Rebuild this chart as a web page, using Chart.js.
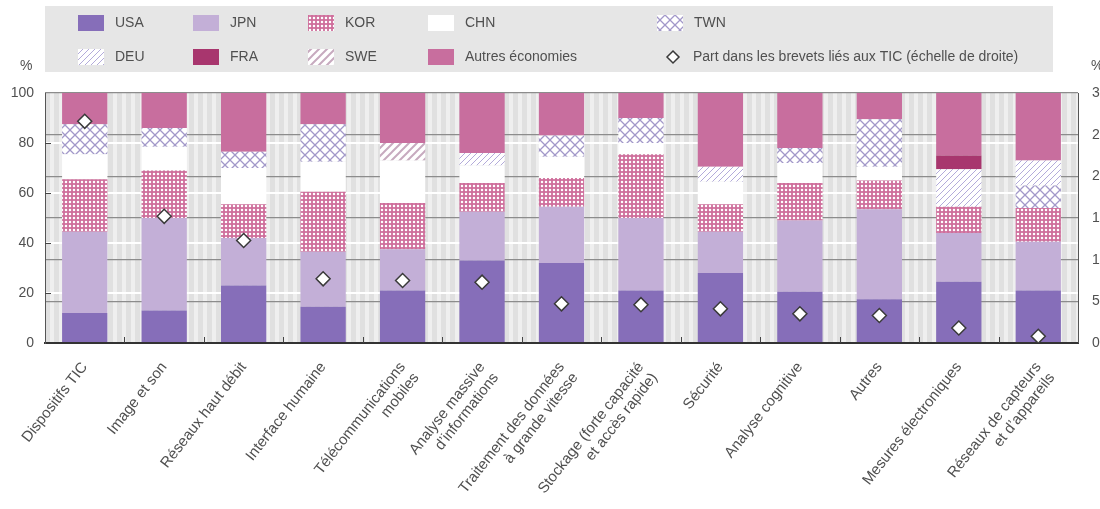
<!DOCTYPE html>
<html>
<head>
<meta charset="utf-8">
<script src="https://cdn.jsdelivr.net/npm/chart.js@4.4.1/dist/chart.umd.min.js"></script>
<style>
  body { margin: 0; background: #fff; }
  #wrap { width: 1100px; height: 509px; }
</style>
</head>
<body>
<div id="wrap"><canvas id="ictChart" width="1100" height="509"></canvas></div>
<script>
const categories = [
  'Dispositifs TIC',
  'Image et son',
  'Réseaux haut débit',
  'Interface humaine',
  ['Télécommunications', 'mobiles'],
  ['Analyse massive', 'd’informations'],
  ['Traitement des données', 'à grande vitesse'],
  ['Stockage (forte capacité', 'et accès rapide)'],
  'Sécurité',
  'Analyse cognitive',
  'Autres',
  'Mesures électroniques',
  ['Réseaux de capteurs', 'et d’appareils']
];

// shares in %, stacked to 100
const usa    = [12, 13, 23, 14.5, 21, 33, 32, 21, 28, 20.5, 17.5, 24.5, 21];
const jpn    = [32.5, 37, 19, 22, 16.5, 19.5, 22.5, 29, 16.5, 28.5, 36, 19.5, 19.5];
const kor    = [21, 19, 13.5, 24, 18.5, 11.5, 11.5, 25.5, 11, 15, 11.5, 10.5, 13.5];
const chn    = [10, 9.5, 14.5, 12, 17, 7, 8.5, 4.5, 9, 8, 5.5, 0, 0];
const twn    = [12, 7.5, 6.5, 15, 0, 0, 8.5, 10, 0, 6, 19, 0, 9];
const deu    = [0, 0, 0, 0, 0, 5, 0, 0, 6, 0, 0, 15, 10];
const fra    = [0, 0, 0, 0, 0, 0, 0, 0, 0, 0, 0, 5.5, 0];
const swe    = [0, 0, 0, 0, 7, 0, 0, 0, 0, 0, 0, 0, 0];
const others = [12.5, 14, 23.5, 12.5, 20, 24, 17, 10, 29.5, 22, 10.5, 25, 27];

// right scale: share in ICT patents
const ictShare = [26.6, 15.2, 12.3, 7.7, 7.5, 7.3, 4.7, 4.6, 4.1, 3.5, 3.3, 1.8, 0.8];

const leftTicks = [0, 20, 40, 60, 80, 100];
const rightTicks = [0, 5, 10, 15, 20, 25, 30];

const FONT = "'Liberation Sans Narrow', 'Arial Narrow', 'Liberation Sans', sans-serif";
const TEXT = '#505050';

const ctx = document.getElementById('ictChart').getContext('2d');

function makePattern(size, draw) {
  const c = document.createElement('canvas');
  c.width = size;
  c.height = size;
  const g = c.getContext('2d');
  draw(g, size);
  return ctx.createPattern(c, 'repeat');
}

function diagonal(g, s, color, width) {
  g.fillStyle = '#fff';
  g.fillRect(0, 0, s, s);
  g.strokeStyle = color;
  g.lineWidth = width;
  g.beginPath();
  g.moveTo(0, s); g.lineTo(s, 0);
  g.moveTo(-s / 2, s / 2); g.lineTo(s / 2, -s / 2);
  g.moveTo(s / 2, s * 1.5); g.lineTo(s * 1.5, s / 2);
  g.stroke();
}

const korPattern = makePattern(4, (g, s) => {
  g.fillStyle = '#cf6f9c';
  g.fillRect(0, 0, s, s);
  g.fillStyle = '#fff';
  g.beginPath();
  g.arc(2, 2, 1.25, 0, Math.PI * 2);
  g.fill();
});

const twnPattern = makePattern(10, (g, s) => {
  g.fillStyle = '#fff';
  g.fillRect(0, 0, s, s);
  g.strokeStyle = '#a298c9';
  g.lineWidth = 1.3;
  g.beginPath();
  g.moveTo(0, 0); g.lineTo(s, s);
  g.moveTo(s, 0); g.lineTo(0, s);
  g.stroke();
});

const deuPattern = makePattern(6, (g, s) => diagonal(g, s, '#b3abda', 1));
const swePattern = makePattern(8, (g, s) => diagonal(g, s, '#c7aabf', 2));

const stripePattern = makePattern(9, (g, s) => {
  g.fillStyle = '#efefef';
  g.fillRect(0, 0, s, s);
  g.fillStyle = '#e0e0e0';
  g.fillRect(0, 0, 5, s);
});

const series = [
  { label: 'USA', data: usa, fill: '#866eb9' },
  { label: 'JPN', data: jpn, fill: '#c3afd7' },
  { label: 'KOR', data: kor, fill: korPattern },
  { label: 'CHN', data: chn, fill: '#ffffff' },
  { label: 'TWN', data: twn, fill: twnPattern },
  { label: 'DEU', data: deu, fill: deuPattern },
  { label: 'FRA', data: fra, fill: '#a8366e' },
  { label: 'SWE', data: swe, fill: swePattern },
  { label: 'Autres économies', data: others, fill: '#c86e9e' }
];

const datasets = [
  {
    type: 'line',
    label: 'Part dans les brevets liés aux TIC (échelle de droite)',
    data: ictShare,
    yAxisID: 'y1',
    showLine: false,
    pointStyle: 'rectRot',
    pointRadius: 7,
    pointBackgroundColor: '#ffffff',
    pointBorderColor: '#3a3a3a',
    pointBorderWidth: 1.5,
    order: 0
  },
  ...series.map(s => ({
    type: 'bar',
    label: s.label,
    data: s.data,
    backgroundColor: s.fill,
    borderWidth: 0,
    yAxisID: 'y',
    stack: 'all',
    barPercentage: 0.57,
    categoryPercentage: 1,
    order: 1
  }))
];

// legend grid: two rows, five columns
const legendCols = [78, 193, 308, 428, 657];
const legendRows = [23, 57];
const legendItems = [
  [0, 0, 'USA'], [1, 0, 'JPN'], [2, 0, 'KOR'], [3, 0, 'CHN'], [4, 0, 'TWN'],
  [0, 1, 'DEU'], [1, 1, 'FRA'], [2, 1, 'SWE'], [3, 1, 'Autres économies'], [4, 1, 'ICT']
];

const decorPlugin = {
  id: 'decor',
  beforeDraw(chart) {
    const { ctx, chartArea: a } = chart;
    ctx.save();
    ctx.fillStyle = stripePattern;
    ctx.fillRect(a.left, a.top, a.right - a.left, a.bottom - a.top);

    // legend box
    ctx.fillStyle = '#e6e6e6';
    ctx.fillRect(45, 6, 1008, 66);
    ctx.font = '14px ' + FONT;
    ctx.textBaseline = 'middle';
    legendItems.forEach(([c, r, name]) => {
      const x = legendCols[c];
      const y = legendRows[r];
      if (name === 'ICT') {
        const ds = chart.data.datasets[0];
        ctx.beginPath();
        ctx.moveTo(x + 16, y - 6);
        ctx.lineTo(x + 22, y);
        ctx.lineTo(x + 16, y + 6);
        ctx.lineTo(x + 10, y);
        ctx.closePath();
        ctx.fillStyle = '#fff';
        ctx.fill();
        ctx.lineWidth = 1.5;
        ctx.strokeStyle = '#3a3a3a';
        ctx.stroke();
        ctx.fillStyle = TEXT;
        ctx.fillText(ds.label, x + 36, y);
        return;
      }
      const s = series.find(d => d.label === name);
      ctx.fillStyle = s.fill;
      ctx.fillRect(x, y - 8, 26, 16);
      ctx.fillStyle = TEXT;
      ctx.fillText(name, x + 37, y);
    });

    // unit labels
    ctx.fillText('%', 20, 66);
    ctx.fillText('%', 1091, 66);
    ctx.restore();
  },
  beforeDatasetsDraw(chart) {
    const { ctx, chartArea: a, scales } = chart;
    ctx.save();
    ctx.strokeStyle = '#444';
    ctx.lineWidth = 1;
    ctx.beginPath();
    // small inward ticks between categories
    const step = (a.right - a.left) / categories.length;
    for (let i = 1; i < categories.length; i++) {
      const x = Math.round(a.left + step * i) + 0.5;
      ctx.moveTo(x, a.bottom);
      ctx.lineTo(x, a.bottom - 6);
    }
    leftTicks.slice(1, -1).forEach(v => {
      const y = Math.round(scales.y.getPixelForValue(v)) + 0.5;
      ctx.moveTo(a.left, y);
      ctx.lineTo(a.left + 6, y);
    });
    ctx.stroke();
    ctx.restore();
  }
};

Chart.defaults.font.family = FONT;
Chart.defaults.color = TEXT;

new Chart(ctx, {
  type: 'bar',
  data: { labels: categories, datasets },
  plugins: [decorPlugin],
  options: {
    responsive: false,
    animation: false,
    devicePixelRatio: 1,
    layout: { padding: { top: 93, left: 0, right: 0, bottom: 0 } },
    scales: {
      x: {
        stacked: true,
        grid: { display: false },
        border: { display: true, color: '#333', width: 2 },
        ticks: {
          autoSkip: false,
          minRotation: 52,
          maxRotation: 52,
          padding: 8,
          font: { size: 15, lineHeight: 1.15 },
          color: TEXT
        },
        afterFit(scale) { scale.height = 166; }
      },
      y: {
        stacked: true,
        position: 'left',
        min: 0,
        max: 100,
        afterBuildTicks(scale) { scale.ticks = leftTicks.map(v => ({ value: v })); },
        grid: {
          color: c => (c.tick.value === 0 || c.tick.value === 100) ? 'rgba(0,0,0,0)' : '#ffffff',
          lineWidth: 2,
          drawTicks: false
        },
        border: { display: true, color: '#555', width: 1 },
        ticks: { padding: 11, font: { size: 14 }, color: TEXT },
        afterFit(scale) { scale.width = 45; }
      },
      y1: {
        position: 'right',
        min: 0,
        max: 30,
        afterBuildTicks(scale) { scale.ticks = rightTicks.map(v => ({ value: v })); },
        grid: { color: '#8c8c8c', lineWidth: 1.2, drawTicks: false },
        border: { display: true, color: '#555', width: 1 },
        ticks: { padding: 14, font: { size: 14 }, color: TEXT },
        afterFit(scale) { scale.width = 22; }
      }
    },
    plugins: {
      legend: { display: false },
      tooltip: { enabled: false }
    }
  }
});
</script>
</body>
</html>
